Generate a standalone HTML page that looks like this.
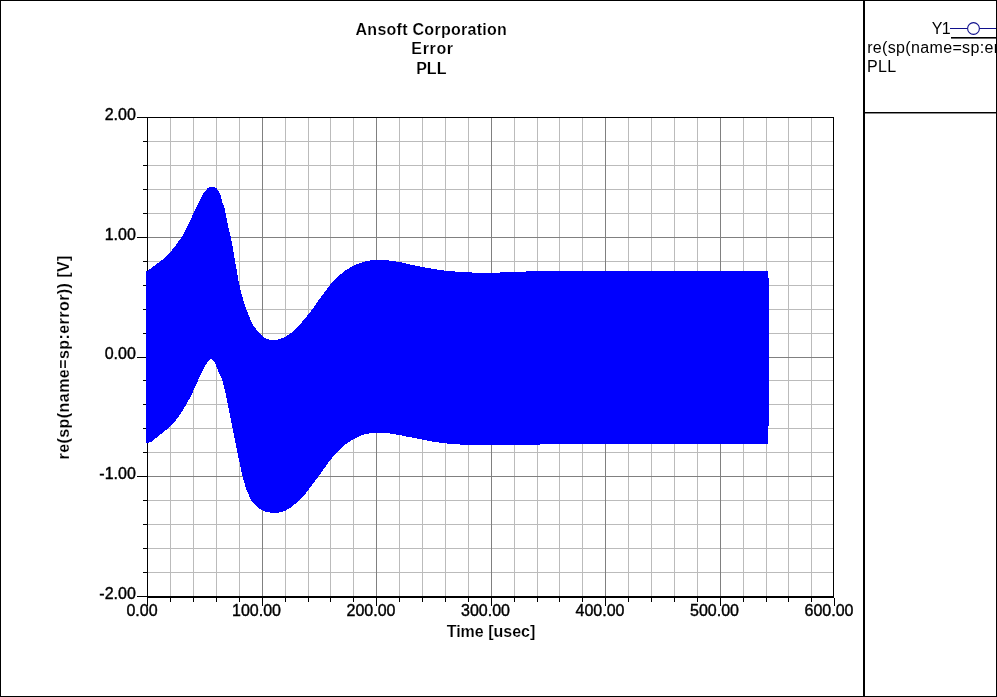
<!DOCTYPE html>
<html><head><meta charset="utf-8"><title>Error - PLL</title>
<style>html,body{margin:0;padding:0;background:#fff;overflow:hidden}svg{display:block;will-change:transform}</style>
</head><body>
<svg width="997" height="697" viewBox="0 0 997 697">
<rect x="0" y="0" width="997" height="697" fill="#fff"/>
<g shape-rendering="crispEdges">
<rect x="170" y="118" width="1" height="478" fill="#bbbbbb"/>
<rect x="193" y="118" width="1" height="478" fill="#bbbbbb"/>
<rect x="216" y="118" width="1" height="478" fill="#bbbbbb"/>
<rect x="239" y="118" width="1" height="478" fill="#bbbbbb"/>
<rect x="285" y="118" width="1" height="478" fill="#bbbbbb"/>
<rect x="308" y="118" width="1" height="478" fill="#bbbbbb"/>
<rect x="330" y="118" width="1" height="478" fill="#bbbbbb"/>
<rect x="353" y="118" width="1" height="478" fill="#bbbbbb"/>
<rect x="399" y="118" width="1" height="478" fill="#bbbbbb"/>
<rect x="422" y="118" width="1" height="478" fill="#bbbbbb"/>
<rect x="445" y="118" width="1" height="478" fill="#bbbbbb"/>
<rect x="468" y="118" width="1" height="478" fill="#bbbbbb"/>
<rect x="514" y="118" width="1" height="478" fill="#bbbbbb"/>
<rect x="537" y="118" width="1" height="478" fill="#bbbbbb"/>
<rect x="559" y="118" width="1" height="478" fill="#bbbbbb"/>
<rect x="582" y="118" width="1" height="478" fill="#bbbbbb"/>
<rect x="628" y="118" width="1" height="478" fill="#bbbbbb"/>
<rect x="651" y="118" width="1" height="478" fill="#bbbbbb"/>
<rect x="674" y="118" width="1" height="478" fill="#bbbbbb"/>
<rect x="697" y="118" width="1" height="478" fill="#bbbbbb"/>
<rect x="743" y="118" width="1" height="478" fill="#bbbbbb"/>
<rect x="766" y="118" width="1" height="478" fill="#bbbbbb"/>
<rect x="788" y="118" width="1" height="478" fill="#bbbbbb"/>
<rect x="811" y="118" width="1" height="478" fill="#bbbbbb"/>
<rect x="148" y="141" width="685" height="1" fill="#bbbbbb"/>
<rect x="148" y="165" width="685" height="1" fill="#bbbbbb"/>
<rect x="148" y="189" width="685" height="1" fill="#bbbbbb"/>
<rect x="148" y="213" width="685" height="1" fill="#bbbbbb"/>
<rect x="148" y="261" width="685" height="1" fill="#bbbbbb"/>
<rect x="148" y="285" width="685" height="1" fill="#bbbbbb"/>
<rect x="148" y="309" width="685" height="1" fill="#bbbbbb"/>
<rect x="148" y="333" width="685" height="1" fill="#bbbbbb"/>
<rect x="148" y="380" width="685" height="1" fill="#bbbbbb"/>
<rect x="148" y="404" width="685" height="1" fill="#bbbbbb"/>
<rect x="148" y="428" width="685" height="1" fill="#bbbbbb"/>
<rect x="148" y="452" width="685" height="1" fill="#bbbbbb"/>
<rect x="148" y="500" width="685" height="1" fill="#bbbbbb"/>
<rect x="148" y="524" width="685" height="1" fill="#bbbbbb"/>
<rect x="148" y="548" width="685" height="1" fill="#bbbbbb"/>
<rect x="148" y="572" width="685" height="1" fill="#bbbbbb"/>
<rect x="262" y="118" width="1" height="478" fill="#808080"/>
<rect x="376" y="118" width="1" height="478" fill="#808080"/>
<rect x="491" y="118" width="1" height="478" fill="#808080"/>
<rect x="605" y="118" width="1" height="478" fill="#808080"/>
<rect x="720" y="118" width="1" height="478" fill="#808080"/>
<rect x="148" y="237" width="685" height="1" fill="#808080"/>
<rect x="148" y="357" width="685" height="1" fill="#808080"/>
<rect x="148" y="476" width="685" height="1" fill="#808080"/>
<rect x="147" y="117" width="687" height="1" fill="#000"/>
<rect x="147" y="117" width="1" height="480" fill="#000"/>
<rect x="833" y="117" width="1" height="480" fill="#000"/>
<rect x="147" y="596" width="687" height="2" fill="#000"/>
<rect x="137" y="117" width="10" height="1" fill="#000"/>
<rect x="143" y="141" width="4" height="1" fill="#000"/>
<rect x="143" y="165" width="4" height="1" fill="#000"/>
<rect x="143" y="189" width="4" height="1" fill="#000"/>
<rect x="143" y="213" width="4" height="1" fill="#000"/>
<rect x="137" y="237" width="10" height="1" fill="#000"/>
<rect x="143" y="261" width="4" height="1" fill="#000"/>
<rect x="143" y="285" width="4" height="1" fill="#000"/>
<rect x="143" y="309" width="4" height="1" fill="#000"/>
<rect x="143" y="333" width="4" height="1" fill="#000"/>
<rect x="137" y="357" width="10" height="1" fill="#000"/>
<rect x="143" y="380" width="4" height="1" fill="#000"/>
<rect x="143" y="404" width="4" height="1" fill="#000"/>
<rect x="143" y="428" width="4" height="1" fill="#000"/>
<rect x="143" y="452" width="4" height="1" fill="#000"/>
<rect x="137" y="476" width="10" height="1" fill="#000"/>
<rect x="143" y="500" width="4" height="1" fill="#000"/>
<rect x="143" y="524" width="4" height="1" fill="#000"/>
<rect x="143" y="548" width="4" height="1" fill="#000"/>
<rect x="143" y="572" width="4" height="1" fill="#000"/>
<rect x="137" y="596" width="10" height="1" fill="#000"/>
<rect x="147" y="598" width="1" height="8" fill="#000"/>
<rect x="170" y="598" width="1" height="4" fill="#000"/>
<rect x="193" y="598" width="1" height="4" fill="#000"/>
<rect x="216" y="598" width="1" height="4" fill="#000"/>
<rect x="239" y="598" width="1" height="4" fill="#000"/>
<rect x="262" y="598" width="1" height="8" fill="#000"/>
<rect x="285" y="598" width="1" height="4" fill="#000"/>
<rect x="308" y="598" width="1" height="4" fill="#000"/>
<rect x="330" y="598" width="1" height="4" fill="#000"/>
<rect x="353" y="598" width="1" height="4" fill="#000"/>
<rect x="376" y="598" width="1" height="8" fill="#000"/>
<rect x="399" y="598" width="1" height="4" fill="#000"/>
<rect x="422" y="598" width="1" height="4" fill="#000"/>
<rect x="445" y="598" width="1" height="4" fill="#000"/>
<rect x="468" y="598" width="1" height="4" fill="#000"/>
<rect x="491" y="598" width="1" height="8" fill="#000"/>
<rect x="514" y="598" width="1" height="4" fill="#000"/>
<rect x="537" y="598" width="1" height="4" fill="#000"/>
<rect x="559" y="598" width="1" height="4" fill="#000"/>
<rect x="582" y="598" width="1" height="4" fill="#000"/>
<rect x="605" y="598" width="1" height="8" fill="#000"/>
<rect x="628" y="598" width="1" height="4" fill="#000"/>
<rect x="651" y="598" width="1" height="4" fill="#000"/>
<rect x="674" y="598" width="1" height="4" fill="#000"/>
<rect x="697" y="598" width="1" height="4" fill="#000"/>
<rect x="720" y="598" width="1" height="8" fill="#000"/>
<rect x="743" y="598" width="1" height="4" fill="#000"/>
<rect x="766" y="598" width="1" height="4" fill="#000"/>
<rect x="788" y="598" width="1" height="4" fill="#000"/>
<rect x="811" y="598" width="1" height="4" fill="#000"/>
<rect x="834" y="598" width="1" height="8" fill="#000"/>
</g>
<polygon fill="#0000fe" shape-rendering="crispEdges" points="146.0,271.8 151.5,267.8 155.8,264.6 160.1,261.5 164.4,258.2 168.7,253.9 173.0,248.9 177.3,243.1 181.6,237.2 185.9,229.5 190.2,220.9 194.5,210.8 198.8,202.2 203.1,193.8 207.4,188.5 210.0,187.1 213.0,186.9 216.0,187.8 218.7,191.2 220.8,196.0 222.3,202.0 224.8,209.0 226.5,218.0 228.6,228.0 231.0,238.5 233.0,249.0 234.8,260.0 236.7,270.0 238.3,280.0 240.6,290.0 243.2,300.0 246.6,310.0 250.7,320.5 254.0,326.5 257.4,331.0 261.0,335.0 265.0,338.3 271.7,340.4 278.5,339.5 285.4,336.8 292.3,332.1 299.2,325.2 305.1,318.5 310.1,312.2 315.1,305.4 320.1,298.2 325.1,291.5 330.2,284.8 335.2,279.1 340.2,274.6 345.2,270.7 350.2,267.5 355.3,264.8 360.3,262.9 365.3,261.4 370.3,260.4 376.3,259.9 385.4,260.1 398.6,261.8 409.4,264.3 420.3,266.5 431.1,268.6 445.5,270.8 460.0,271.9 474.4,272.6 492.5,272.8 510.0,272.1 540.0,271.0 768.0,271.0 769.0,285.0 769.0,426.0 768.0,426.0 768.0,443.5 541.0,443.5 540.0,444.7 474.4,444.7 460.0,444.5 445.5,443.4 431.1,441.4 420.3,439.2 409.4,437.1 398.6,434.9 385.4,432.7 376.3,432.6 370.3,433.2 365.3,434.2 360.3,435.8 355.3,438.1 350.2,441.1 345.2,444.7 340.2,449.1 335.2,454.1 330.2,460.2 325.1,467.2 320.1,474.2 315.1,480.8 310.1,487.7 305.1,494.3 299.2,500.3 292.3,506.4 285.4,510.7 278.5,512.8 271.7,512.8 265.6,511.6 262.0,510.2 258.5,508.0 254.6,504.5 251.0,500.0 246.7,490.3 243.5,480.3 241.1,470.3 239.0,460.0 237.0,450.0 235.0,440.0 233.0,430.0 231.0,420.0 229.0,410.0 226.8,400.0 224.9,390.0 222.4,380.5 218.2,371.0 214.6,362.2 213.0,359.8 211.3,359.0 209.5,360.0 207.4,362.2 203.1,369.4 198.8,378.7 194.5,388.4 190.2,397.3 185.9,405.2 181.6,412.2 177.3,418.4 173.0,423.9 168.7,428.0 164.4,431.3 160.1,434.6 155.8,438.2 151.5,441.8 147.5,443.0 146.0,443.2"/>
<g font-family="'Liberation Sans', sans-serif" font-size="16" fill="#000">
<g font-weight="bold" text-anchor="middle" stroke="#fff" stroke-width="0.15">
<text x="431.3" y="35.1" letter-spacing="0.27">Ansoft Corporation</text>
<text x="432.5" y="54.1" letter-spacing="0.65">Error</text>
<text x="431.3" y="74.1">PLL</text>
<text x="491" y="636.5">Time [usec]</text>
<text transform="translate(69,357.3) rotate(-90)" letter-spacing="0.44">re(sp(name=sp:error)) [V]</text>
</g>
<text x="135.8" y="119.9" text-anchor="end" stroke="#000" stroke-width="0.4">2.00</text>
<text x="135.8" y="239.7" text-anchor="end" stroke="#000" stroke-width="0.4">1.00</text>
<text x="135.8" y="359.4" text-anchor="end" stroke="#000" stroke-width="0.4">0.00</text>
<text x="135.8" y="479.1" text-anchor="end" stroke="#000" stroke-width="0.4">-1.00</text>
<text x="135.8" y="598.9" text-anchor="end" stroke="#000" stroke-width="0.4">-2.00</text>
<text x="142.0" y="616" text-anchor="middle" stroke="#000" stroke-width="0.4">0.00</text>
<text x="256.5" y="616" text-anchor="middle" stroke="#000" stroke-width="0.4">100.00</text>
<text x="371.0" y="616" text-anchor="middle" stroke="#000" stroke-width="0.4">200.00</text>
<text x="485.5" y="616" text-anchor="middle" stroke="#000" stroke-width="0.4">300.00</text>
<text x="600.0" y="616" text-anchor="middle" stroke="#000" stroke-width="0.4">400.00</text>
<text x="714.5" y="616" text-anchor="middle" stroke="#000" stroke-width="0.4">500.00</text>
<text x="829.0" y="616" text-anchor="middle" stroke="#000" stroke-width="0.4">600.00</text>
<g>
<text x="931.7" y="33.5" letter-spacing="-0.5">Y1</text>
<text x="867.2" y="52.7" letter-spacing="0.34">re(sp(name=sp:er</text>
<text x="866.9" y="71.8" letter-spacing="0.35">PLL</text>
</g>
</g>
<g shape-rendering="crispEdges">
<rect x="950" y="28" width="46" height="1" fill="#10108c"/>
<rect x="951" y="37" width="45" height="1" fill="#000"/>
<rect x="951" y="38" width="45" height="1" fill="#666"/>
</g>
<circle cx="973.5" cy="28.5" r="5.9" fill="#fff" stroke="#10108c" stroke-width="1.1"/>
<g shape-rendering="crispEdges" fill="#000">
<rect x="0" y="0" width="997" height="1"/>
<rect x="0" y="0" width="1" height="697"/>
<rect x="996" y="0" width="1" height="697"/>
<rect x="0" y="696" width="997" height="1"/>
<rect x="863" y="0" width="2" height="697"/>
<rect x="865" y="112" width="132" height="1"/>
<rect x="865" y="113" width="131" height="1" fill="#8a8a8a"/>
</g>
</svg>
</body></html>
